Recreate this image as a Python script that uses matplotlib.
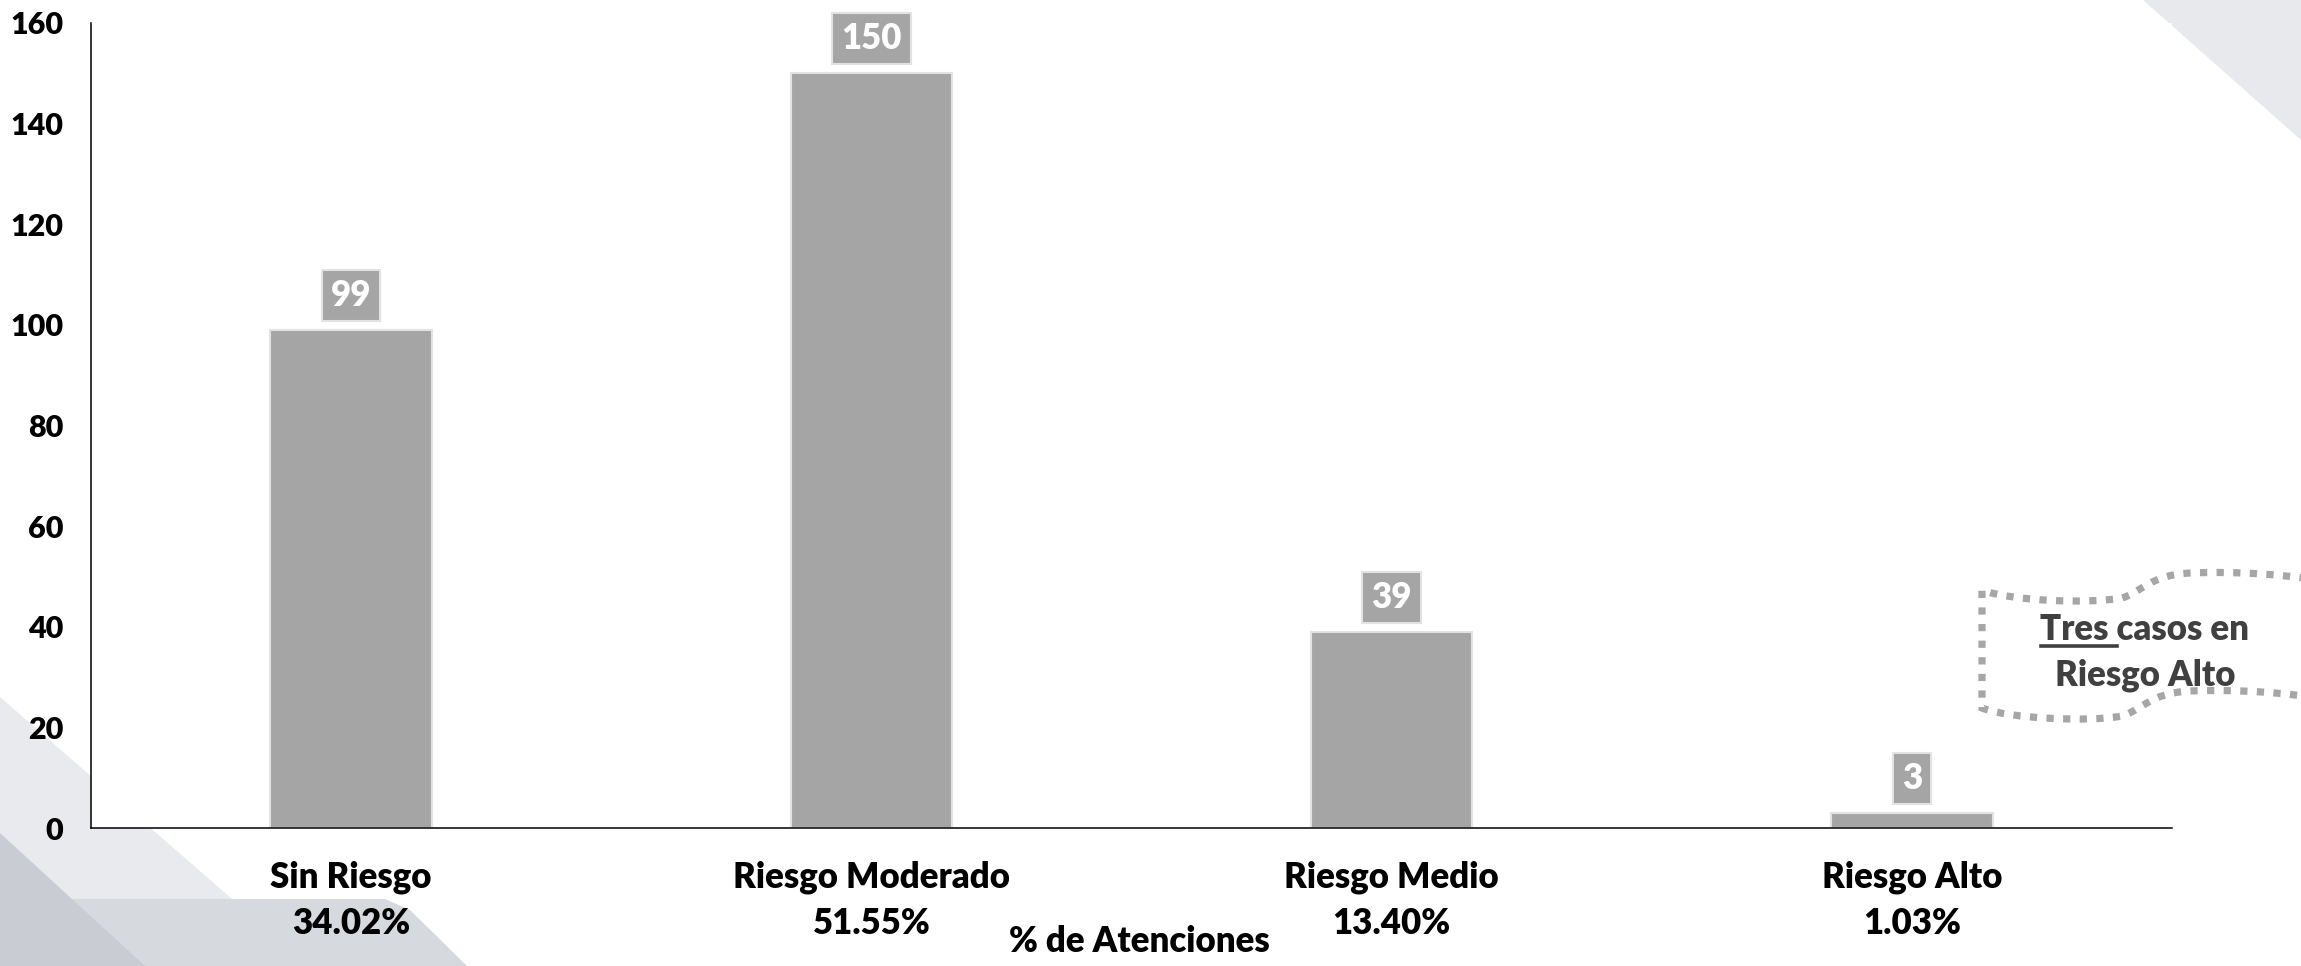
import matplotlib
matplotlib.use("Agg")
import matplotlib.pyplot as plt
import matplotlib.transforms as mtransforms
from matplotlib.path import Path
from matplotlib.patches import PathPatch, Polygon

# ── data ────────────────────────────────────────────────────────────────
categories = ["Sin Riesgo", "Riesgo Moderado", "Riesgo Medio", "Riesgo Alto"]
counts = [99, 150, 39, 3]
y_ticks = [0, 20, 40, 60, 80, 100, 120, 140, 160]
x_label = "% de Atenciones"
note_lines = ["Tres casos en", "Riesgo Alto"]
note_underlined = "Tres "

total = sum(counts)
percents = [f"{100 * c / total:.2f}%" for c in counts]

# ── style ───────────────────────────────────────────────────────────────
plt.rcParams["font.family"] = ["Lato", "DejaVu Sans"]
WEIGHT = "heavy"

BAR = "#A5A5A5"
BAR_EDGE = "#E2E2E2"
NOTE = "#A6A6A6"
TEXT_DARK = "#404040"
FS = 25

W, H = 2301, 966
fig = plt.figure(figsize=(W / 100, H / 100), dpi=100)
fig.patch.set_facecolor("white")

# pixel coords measured from the top-left corner
px = mtransforms.Affine2D().scale(1 / W, -1 / H).translate(0, 1) + fig.transFigure

# background decoration
for pts, col in [
    ([(2143, 0), (2301, 0), (2301, 140)], "#E8E9EC"),
    ([(0, 697), (309, 966), (0, 966)], "#E9EAED"),
    ([(0, 899), (385, 899), (410, 910), (467, 966), (0, 966)], "#D6D9DD"),
    ([(0, 833), (145, 966), (0, 966)], "#C9CDD3"),
]:
    fig.patches.append(Polygon(pts, closed=True, facecolor=col, edgecolor="none",
                               transform=px, zorder=-5))

# ── axes ────────────────────────────────────────────────────────────────
ax_l, ax_r, ax_t, ax_b = 91, 2172, 23, 828
ax = fig.add_axes([ax_l / W, (H - ax_b) / H, (ax_r - ax_l) / W, (ax_b - ax_t) / H])
ax.set_facecolor("white")

x = list(range(len(categories)))
ax.bar(x, counts, width=0.31, color=BAR, edgecolor=BAR_EDGE, linewidth=1.5, zorder=2)

for i, v in zip(x, counts):
    ax.annotate(str(v), xy=(i, v), xytext=(0, 18), textcoords="offset pixels",
                ha="center", va="bottom", fontsize=FS, fontweight=WEIGHT,
                color="white", zorder=4,
                bbox=dict(boxstyle="square,pad=0.26", facecolor=BAR,
                          edgecolor=BAR_EDGE, linewidth=1.5))

ax.set_xlim(-0.5, len(categories) - 0.5)
ax.set_ylim(0, 160)
ax.set_yticks(y_ticks)
ax.set_xticks([])
ax.tick_params(axis="y", length=0, pad=20, labelsize=22)
for lab in ax.get_yticklabels():
    lab.set_fontweight(WEIGHT)

for s in ["top", "right"]:
    ax.spines[s].set_visible(False)
for s in ["left", "bottom"]:
    ax.spines[s].set_linewidth(1.1)
    ax.spines[s].set_color("black")

# category names and percentages under the axis
xt = ax.get_xaxis_transform()
for i, name, pct in zip(x, categories, percents):
    t1 = mtransforms.offset_copy(xt, fig=fig, x=0, y=-60, units="dots")
    t2 = mtransforms.offset_copy(xt, fig=fig, x=0, y=-106, units="dots")
    ax.text(i, 0, name, transform=t1, ha="center", va="baseline",
            fontsize=FS, fontweight=WEIGHT, color="black", clip_on=False)
    ax.text(i, 0, pct, transform=t2, ha="center", va="baseline",
            fontsize=FS, fontweight=WEIGHT, color="black", clip_on=False)

fig.text(1139 / W, 1 - 952 / H, x_label, ha="center", va="baseline",
         fontsize=FS, fontweight=WEIGHT, color="black")

# ── wavy dotted callout ─────────────────────────────────────────────────
def wave(y0):
    # one wavy edge, left to right, shifted vertically by y0
    return [
        (1982, y0), (2010, y0 + 11), (2090, y0 + 14), (2122, y0 + 8),
        (2142, y0 + 2), (2150, y0 - 15), (2190, y0 - 17),
        (2240, y0 - 19), (2290, y0 - 15), (2330, y0 - 8),
    ]

top = wave(590)
bot = wave(708)
bot_rev = bot[::-1]
verts = [bot_rev[0]] + bot_rev[1:] + [(1982, 590)] + top[1:]
codes = [Path.MOVETO] + [Path.CURVE4] * 9 + [Path.LINETO] + [Path.CURVE4] * 9
note = PathPatch(Path(verts, codes), facecolor="none", edgecolor=NOTE,
                 linewidth=5.2, linestyle=(0, (1, 1.3)), capstyle="butt",
                 joinstyle="miter", transform=px, zorder=6)
fig.patches.append(note)

cx = 2145
t_a = fig.text(cx / W, 1 - 640 / H, note_lines[0], ha="center", va="baseline",
               fontsize=FS, fontweight=WEIGHT, color=TEXT_DARK, zorder=7)
fig.text(cx / W, 1 - 685 / H, note_lines[1], ha="center", va="baseline",
         fontsize=FS, fontweight=WEIGHT, color=TEXT_DARK, zorder=7)

# underline the first word
r = fig.canvas.get_renderer()
full_w = t_a.get_window_extent(r).width
rest = fig.text(0, 0, note_lines[0][len(note_underlined):], fontsize=FS,
                fontweight=WEIGHT)
rest_w = rest.get_window_extent(r).width
rest.remove()
x0 = cx - full_w / 2
x1 = x0 + (full_w - rest_w)
fig.lines.append(plt.Line2D([x0, x1], [646, 646], color=TEXT_DARK, linewidth=2.6,
                            transform=px, zorder=7))

fig.savefig("out.png", dpi=100, facecolor="white")
